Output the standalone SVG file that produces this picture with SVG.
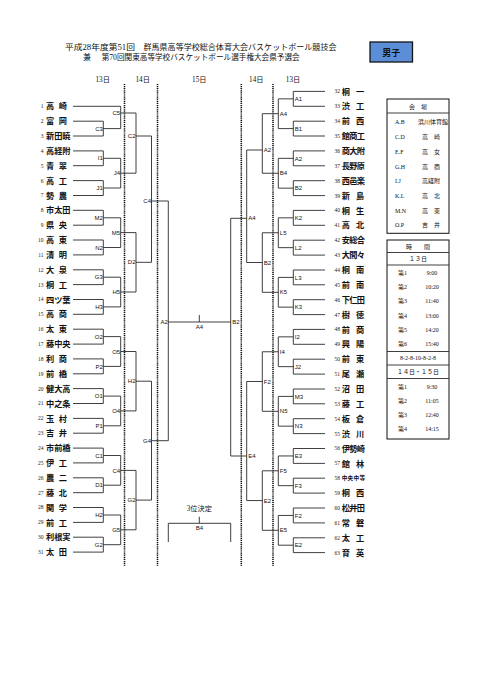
<svg xmlns="http://www.w3.org/2000/svg" width="481" height="680" viewBox="0 0 481 680">
<style>
.ln{stroke:#2a2a2a;stroke-width:0.9;fill:none}
.dot{stroke:#000;stroke-width:1.5;stroke-dasharray:1.1 0.8;fill:none}
.nm{font-family:"Noto Sans CJK JP","Noto Sans CJK SC",sans-serif;font-weight:bold;font-size:8.2px;fill:#111}
.sm{font-family:"Noto Sans CJK JP",sans-serif;font-weight:bold;font-size:5.6px;fill:#111}
.no{font-family:"Liberation Serif",serif;font-size:5.5px;fill:#222}
.lb{font-family:"Liberation Sans",sans-serif;font-size:6px;fill:#111}
.lbl{font-family:"Liberation Sans",sans-serif;font-size:6px;fill:#111;text-anchor:end}
.dt{font-family:"Liberation Serif","Noto Sans CJK JP",serif;font-size:7.2px;fill:#111;text-anchor:middle}
.tt{font-family:"Liberation Serif","Noto Sans CJK JP",serif;font-size:8px;fill:#111}
.tb{font-family:"Liberation Serif","Noto Sans CJK JP",serif;font-size:6px;fill:#111}
.tbc{font-family:"Liberation Serif","Noto Sans CJK JP",serif;font-size:6px;fill:#111;text-anchor:middle}
.box{fill:#fff;stroke:#111;stroke-width:1}
</style>
<rect width="481" height="680" fill="#fff"/>

<g id="title">
<text class="tt" x="65" y="50" textLength="70" lengthAdjust="spacingAndGlyphs">平成28年度第51回</text>
<text class="tt" x="143.5" y="50" textLength="193" lengthAdjust="spacingAndGlyphs">群馬県高等学校総合体育大会バスケットボール競技会</text>
<text class="tt" x="83" y="60">兼</text>
<text class="tt" x="101.7" y="60" textLength="198" lengthAdjust="spacingAndGlyphs">第70回関東高等学校バスケットボール選手権大会県予選会</text>
</g>

<g id="boys">
<rect x="370" y="42" width="42.5" height="20" fill="#5b8ed6" stroke="#151515" stroke-width="1.3"/>
<text x="391.3" y="55.5" text-anchor="middle" font-family="Noto Sans CJK JP,sans-serif" font-weight="bold" font-size="9" fill="#111">男子</text>
</g>

<g id="dates">
<text class="dt" x="102.7" y="81.5">13日</text>
<text class="dt" x="142.7" y="81.5">14日</text>
<text class="dt" x="199.3" y="81.5">15日</text>
<text class="dt" x="256.3" y="81.5">14日</text>
<text class="dt" x="293" y="81.5">13日</text>
</g>

<g id="day-dividers">
<line class="dot" x1="124.5" y1="84" x2="124.5" y2="566"/>
<line class="dot" x1="157.5" y1="84" x2="157.5" y2="566"/>
<line class="dot" x1="241.3" y1="84" x2="241.3" y2="566"/>
<line class="dot" x1="273" y1="84" x2="273" y2="566"/>
</g>

<g id="connectors">
<path class="ln" d="M73,106.3H120.7"/>
<path class="ln" d="M73,121.2H103.3V136H73M103.3,128.6H120.7"/>
<path class="ln" d="M120.7,106.3V128.6M120.7,113H136"/>
<path class="ln" d="M73,150.9H103.3V165.7H73M103.3,158.3H120.7"/>
<path class="ln" d="M73,180.6H103.3V195.5H73M103.3,188H120.7"/>
<path class="ln" d="M120.7,158.3V188M120.7,173.2H136"/>
<path class="ln" d="M136,113V173.2M136,136H151.5"/>
<path class="ln" d="M73,210.3H103.3V225.2H73M103.3,217.8H120.7"/>
<path class="ln" d="M73,240H103.3V254.9H73M103.3,247.5H120.7"/>
<path class="ln" d="M120.7,217.8V247.5M120.7,232.6H136"/>
<path class="ln" d="M73,269.8H103.3V284.6H73M103.3,277.2H120.7"/>
<path class="ln" d="M73,299.5H103.3V314.3H73M103.3,306.9H120.7"/>
<path class="ln" d="M120.7,277.2V306.9M120.7,292H136"/>
<path class="ln" d="M136,232.6V292M136,262.3H151.5"/>
<path class="ln" d="M151.5,136V262.3M151.5,201H168.3"/>
<path class="ln" d="M73,329.2H103.3V344.1H73M103.3,336.6H120.7"/>
<path class="ln" d="M73,358.9H103.3V373.8H73M103.3,366.4H120.7"/>
<path class="ln" d="M120.7,336.6V366.4M120.7,351.5H136"/>
<path class="ln" d="M73,388.6H103.3V403.5H73M103.3,396.1H120.7"/>
<path class="ln" d="M73,418.4H103.3V433.2H73M103.3,425.8H120.7"/>
<path class="ln" d="M120.7,396.1V425.8M120.7,410.9H136"/>
<path class="ln" d="M136,351.5V410.9M136,381.2H151.5"/>
<path class="ln" d="M73,448.1H103.3V462.9H73M103.3,455.5H120.7"/>
<path class="ln" d="M73,477.8H103.3V492.7H73M103.3,485.2H120.7"/>
<path class="ln" d="M120.7,455.5V485.2M120.7,470.4H136"/>
<path class="ln" d="M73,507.5H103.3V522.4H73M103.3,515H120.7"/>
<path class="ln" d="M73,537.2H103.3V552.1H73M103.3,544.7H120.7"/>
<path class="ln" d="M120.7,515V544.7M120.7,529.8H136"/>
<path class="ln" d="M136,470.4V529.8M136,500.1H151.5"/>
<path class="ln" d="M151.5,381.2V500.1M151.5,440.7H168.3"/>
<path class="ln" d="M168.3,201V440.7M168.3,322H230.7"/>
<path class="ln" d="M199.3,315V322"/>

<path class="ln" d="M325,91.4H293.3V106.3H325M293.3,98.85H278.3"/>
<path class="ln" d="M325,121.2H293.3V136H325M293.3,128.6H278.3"/>
<path class="ln" d="M278.3,98.85V128.6M278.3,113.7H262.3"/>
<path class="ln" d="M325,150.9H293.3V165.8H325M293.3,158.35H278.3"/>
<path class="ln" d="M325,180.7H293.3V195.6H325M293.3,188.15H278.3"/>
<path class="ln" d="M278.3,158.35V188.15M278.3,173.25H262.3"/>
<path class="ln" d="M262.3,113.7V173.25M262.3,150H246.7"/>
<path class="ln" d="M325,210.4H293.3V225.3H325M293.3,217.85H278.3"/>
<path class="ln" d="M325,240.2H293.3V255.1H325M293.3,247.65H278.3"/>
<path class="ln" d="M278.3,217.85V247.65M278.3,232.75H262.3"/>
<path class="ln" d="M325,270H293.3V284.8H325M293.3,277.4H278.3"/>
<path class="ln" d="M325,299.7H293.3V314.6H325M293.3,307.15H278.3"/>
<path class="ln" d="M278.3,277.4V307.15M278.3,292.3H262.3"/>
<path class="ln" d="M262.3,232.75V292.3M262.3,262.5H246.7"/>
<path class="ln" d="M246.7,150V262.5M246.7,218.3H230.7"/>
<path class="ln" d="M325,329.4H293.3V344.3H325M293.3,336.85H278.3"/>
<path class="ln" d="M325,359.2H293.3V374.1H325M293.3,366.65H278.3"/>
<path class="ln" d="M278.3,336.85V366.65M278.3,351.75H262.3"/>
<path class="ln" d="M325,389H293.3V403.8H325M293.3,396.4H278.3"/>
<path class="ln" d="M325,418.7H293.3V433.6H325M293.3,426.15H278.3"/>
<path class="ln" d="M278.3,396.4V426.15M278.3,411.3H262.3"/>
<path class="ln" d="M262.3,351.75V411.3M262.3,381.5H246.7"/>
<path class="ln" d="M325,448.5H293.3V463.4H325M293.3,455.95H278.3"/>
<path class="ln" d="M325,478.2H293.3V493.1H325M293.3,485.65H278.3"/>
<path class="ln" d="M278.3,455.95V485.65M278.3,470.8H262.3"/>
<path class="ln" d="M325,508H293.3V522.9H325M293.3,515.45H278.3"/>
<path class="ln" d="M325,537.8H293.3V552.6H325M293.3,545.2H278.3"/>
<path class="ln" d="M278.3,515.45V545.2M278.3,530.3H262.3"/>
<path class="ln" d="M262.3,470.8V530.3M262.3,500.55H246.7"/>
<path class="ln" d="M246.7,381.5V500.55M246.7,456H230.7"/>
<path class="ln" d="M230.7,218.3V456"/>

<path class="ln" d="M168.3,542V523.3H230.7V542M199.3,516.7V523.3"/>
</g>

<g id="match-labels">
<text class="lbl" x="102.8" y="130.7">C3</text>
<text class="lbl" x="102.8" y="160.4">I1</text>
<text class="lbl" x="102.8" y="190.1">J1</text>
<text class="lbl" x="102.8" y="219.9">M2</text>
<text class="lbl" x="102.8" y="249.6">N2</text>
<text class="lbl" x="102.8" y="279.3">G3</text>
<text class="lbl" x="102.8" y="309">H3</text>
<text class="lbl" x="102.8" y="338.7">O2</text>
<text class="lbl" x="102.8" y="368.5">P2</text>
<text class="lbl" x="102.8" y="398.2">O1</text>
<text class="lbl" x="102.8" y="427.9">P1</text>
<text class="lbl" x="102.8" y="457.6">C1</text>
<text class="lbl" x="102.8" y="487.3">D1</text>
<text class="lbl" x="102.8" y="517.1">H2</text>
<text class="lbl" x="102.8" y="546.8">G2</text>
<text class="lbl" x="120.2" y="115.1">C5</text>
<text class="lbl" x="120.2" y="175.3">J4</text>
<text class="lbl" x="120.2" y="234.7">M5</text>
<text class="lbl" x="120.2" y="294.1">H5</text>
<text class="lbl" x="120.2" y="353.6">O5</text>
<text class="lbl" x="120.2" y="413">O4</text>
<text class="lbl" x="120.2" y="472.5">C4</text>
<text class="lbl" x="120.2" y="531.9">G5</text>
<text class="lbl" x="135.5" y="138.1">C2</text>
<text class="lbl" x="135.5" y="264.4">D2</text>
<text class="lbl" x="135.5" y="383.3">H2</text>
<text class="lbl" x="135.5" y="502.2">G2</text>
<text class="lbl" x="151" y="203.1">C4</text>
<text class="lbl" x="151" y="442.8">G4</text>
<text class="lbl" x="167.8" y="324.1">A2</text>

<text class="lb" x="294.8" y="101">A1</text>
<text class="lb" x="294.8" y="130.7">B1</text>
<text class="lb" x="294.8" y="160.5">A2</text>
<text class="lb" x="294.8" y="190.3">B2</text>
<text class="lb" x="294.8" y="220">K2</text>
<text class="lb" x="294.8" y="249.8">L2</text>
<text class="lb" x="294.8" y="279.5">L3</text>
<text class="lb" x="294.8" y="309.3">K3</text>
<text class="lb" x="294.8" y="339">I2</text>
<text class="lb" x="294.8" y="368.8">J2</text>
<text class="lb" x="294.8" y="398.5">M3</text>
<text class="lb" x="294.8" y="428.3">N3</text>
<text class="lb" x="294.8" y="458.1">E3</text>
<text class="lb" x="294.8" y="487.8">F3</text>
<text class="lb" x="294.8" y="517.6">F2</text>
<text class="lb" x="294.8" y="547.3">E2</text>
<text class="lb" x="279.8" y="115.8">A4</text>
<text class="lb" x="279.8" y="175.4">B4</text>
<text class="lb" x="279.8" y="234.9">L5</text>
<text class="lb" x="279.8" y="294.4">K5</text>
<text class="lb" x="279.8" y="353.9">I4</text>
<text class="lb" x="279.8" y="413.4">N5</text>
<text class="lb" x="279.8" y="472.9">F5</text>
<text class="lb" x="279.8" y="532.4">E5</text>
<text class="lb" x="263.8" y="152.1">A2</text>
<text class="lb" x="263.8" y="264.6">B2</text>
<text class="lb" x="263.8" y="383.6">F2</text>
<text class="lb" x="263.8" y="502.7">E2</text>
<text class="lb" x="248.2" y="220.4">A4</text>
<text class="lb" x="248.2" y="458.1">E4</text>
<text class="lb" x="232.2" y="324.1">B2</text>

<text class="lb" x="199.3" y="329" text-anchor="middle">A4</text>
<text class="dt" x="199.3" y="511" font-size="6.5">3位決定</text>
<text class="lb" x="199.3" y="529.9" text-anchor="middle">B4</text>
</g>

<g id="t1"><text class="no" x="43.5" y="108.2" text-anchor="end">1</text><text class="nm" x="46" y="109.4" textLength="21" lengthAdjust="spacing">高崎</text></g>
<g id="t2"><text class="no" x="43.5" y="123.1" text-anchor="end">2</text><text class="nm" x="46" y="124.3" textLength="21" lengthAdjust="spacing">富岡</text></g>
<g id="t3"><text class="no" x="43.5" y="137.9" text-anchor="end">3</text><text class="nm" x="46" y="139.1" textLength="24.5" lengthAdjust="spacing">新田暁</text></g>
<g id="t4"><text class="no" x="43.5" y="152.8" text-anchor="end">4</text><text class="nm" x="46" y="154" textLength="24.5" lengthAdjust="spacing">高経附</text></g>
<g id="t5"><text class="no" x="43.5" y="167.6" text-anchor="end">5</text><text class="nm" x="46" y="168.8" textLength="21" lengthAdjust="spacing">青翠</text></g>
<g id="t6"><text class="no" x="43.5" y="182.5" text-anchor="end">6</text><text class="nm" x="46" y="183.7" textLength="21" lengthAdjust="spacing">高工</text></g>
<g id="t7"><text class="no" x="43.5" y="197.4" text-anchor="end">7</text><text class="nm" x="46" y="198.6" textLength="21" lengthAdjust="spacing">勢農</text></g>
<g id="t8"><text class="no" x="43.5" y="212.2" text-anchor="end">8</text><text class="nm" x="46" y="213.4" textLength="24.5" lengthAdjust="spacing">市太田</text></g>
<g id="t9"><text class="no" x="43.5" y="227.1" text-anchor="end">9</text><text class="nm" x="46" y="228.3" textLength="21" lengthAdjust="spacing">県央</text></g>
<g id="t10"><text class="no" x="43.5" y="241.9" text-anchor="end">10</text><text class="nm" x="46" y="243.1" textLength="21" lengthAdjust="spacing">高東</text></g>
<g id="t11"><text class="no" x="43.5" y="256.8" text-anchor="end">11</text><text class="nm" x="46" y="258" textLength="21" lengthAdjust="spacing">清明</text></g>
<g id="t12"><text class="no" x="43.5" y="271.7" text-anchor="end">12</text><text class="nm" x="46" y="272.9" textLength="21" lengthAdjust="spacing">大泉</text></g>
<g id="t13"><text class="no" x="43.5" y="286.5" text-anchor="end">13</text><text class="nm" x="46" y="287.7" textLength="21" lengthAdjust="spacing">桐工</text></g>
<g id="t14"><text class="no" x="43.5" y="301.4" text-anchor="end">14</text><text class="nm" x="46" y="302.6" textLength="24.5" lengthAdjust="spacing">四ツ葉</text></g>
<g id="t15"><text class="no" x="43.5" y="316.2" text-anchor="end">15</text><text class="nm" x="46" y="317.4" textLength="21" lengthAdjust="spacing">高商</text></g>
<g id="t16"><text class="no" x="43.5" y="331.1" text-anchor="end">16</text><text class="nm" x="46" y="332.3" textLength="21" lengthAdjust="spacing">太東</text></g>
<g id="t17"><text class="no" x="43.5" y="346" text-anchor="end">17</text><text class="nm" x="46" y="347.2" textLength="24.5" lengthAdjust="spacing">藤中央</text></g>
<g id="t18"><text class="no" x="43.5" y="360.8" text-anchor="end">18</text><text class="nm" x="46" y="362" textLength="21" lengthAdjust="spacing">利商</text></g>
<g id="t19"><text class="no" x="43.5" y="375.7" text-anchor="end">19</text><text class="nm" x="46" y="376.9" textLength="21" lengthAdjust="spacing">前橋</text></g>
<g id="t20"><text class="no" x="43.5" y="390.5" text-anchor="end">20</text><text class="nm" x="46" y="391.7" textLength="24.5" lengthAdjust="spacing">健大高</text></g>
<g id="t21"><text class="no" x="43.5" y="405.4" text-anchor="end">21</text><text class="nm" x="46" y="406.6" textLength="24.5" lengthAdjust="spacing">中之条</text></g>
<g id="t22"><text class="no" x="43.5" y="420.3" text-anchor="end">22</text><text class="nm" x="46" y="421.5" textLength="21" lengthAdjust="spacing">玉村</text></g>
<g id="t23"><text class="no" x="43.5" y="435.1" text-anchor="end">23</text><text class="nm" x="46" y="436.3" textLength="21" lengthAdjust="spacing">吉井</text></g>
<g id="t24"><text class="no" x="43.5" y="450" text-anchor="end">24</text><text class="nm" x="46" y="451.2" textLength="24.5" lengthAdjust="spacing">市前橋</text></g>
<g id="t25"><text class="no" x="43.5" y="464.8" text-anchor="end">25</text><text class="nm" x="46" y="466" textLength="21" lengthAdjust="spacing">伊工</text></g>
<g id="t26"><text class="no" x="43.5" y="479.7" text-anchor="end">26</text><text class="nm" x="46" y="480.9" textLength="21" lengthAdjust="spacing">農二</text></g>
<g id="t27"><text class="no" x="43.5" y="494.6" text-anchor="end">27</text><text class="nm" x="46" y="495.8" textLength="21" lengthAdjust="spacing">藤北</text></g>
<g id="t28"><text class="no" x="43.5" y="509.4" text-anchor="end">28</text><text class="nm" x="46" y="510.6" textLength="21" lengthAdjust="spacing">関学</text></g>
<g id="t29"><text class="no" x="43.5" y="524.3" text-anchor="end">29</text><text class="nm" x="46" y="525.5" textLength="21" lengthAdjust="spacing">前工</text></g>
<g id="t30"><text class="no" x="43.5" y="539.1" text-anchor="end">30</text><text class="nm" x="46" y="540.3" textLength="24.5" lengthAdjust="spacing">利根実</text></g>
<g id="t31"><text class="no" x="43.5" y="554" text-anchor="end">31</text><text class="nm" x="46" y="555.2" textLength="21" lengthAdjust="spacing">太田</text></g>

<g id="t32"><text class="no" x="340" y="93.3" text-anchor="end">32</text><text class="nm" x="341.7" y="94.5" textLength="22.6" lengthAdjust="spacing">桐一</text></g>
<g id="t33"><text class="no" x="340" y="108.2" text-anchor="end">33</text><text class="nm" x="341.7" y="109.4" textLength="22.6" lengthAdjust="spacing">渋工</text></g>
<g id="t34"><text class="no" x="340" y="123.1" text-anchor="end">34</text><text class="nm" x="341.7" y="124.3" textLength="22.6" lengthAdjust="spacing">前西</text></g>
<g id="t35"><text class="no" x="340" y="137.9" text-anchor="end">35</text><text class="nm" x="341.7" y="139.1" textLength="23.3" lengthAdjust="spacing">館商工</text></g>
<g id="t36"><text class="no" x="340" y="152.8" text-anchor="end">36</text><text class="nm" x="341.7" y="154" textLength="23.3" lengthAdjust="spacing">商大附</text></g>
<g id="t37"><text class="no" x="340" y="167.7" text-anchor="end">37</text><text class="nm" x="341.7" y="168.9" textLength="23.3" lengthAdjust="spacing">長野原</text></g>
<g id="t38"><text class="no" x="340" y="182.6" text-anchor="end">38</text><text class="nm" x="341.7" y="183.8" textLength="23.3" lengthAdjust="spacing">西邑楽</text></g>
<g id="t39"><text class="no" x="340" y="197.5" text-anchor="end">39</text><text class="nm" x="341.7" y="198.7" textLength="22.6" lengthAdjust="spacing">新島</text></g>
<g id="t40"><text class="no" x="340" y="212.3" text-anchor="end">40</text><text class="nm" x="341.7" y="213.5" textLength="22.6" lengthAdjust="spacing">桐生</text></g>
<g id="t41"><text class="no" x="340" y="227.2" text-anchor="end">41</text><text class="nm" x="341.7" y="228.4" textLength="22.6" lengthAdjust="spacing">高北</text></g>
<g id="t42"><text class="no" x="340" y="242.1" text-anchor="end">42</text><text class="nm" x="341.7" y="243.3" textLength="23.3" lengthAdjust="spacing">安総合</text></g>
<g id="t43"><text class="no" x="340" y="257" text-anchor="end">43</text><text class="nm" x="341.7" y="258.2" textLength="23.3" lengthAdjust="spacing">大間々</text></g>
<g id="t44"><text class="no" x="340" y="271.9" text-anchor="end">44</text><text class="nm" x="341.7" y="273.1" textLength="22.6" lengthAdjust="spacing">桐南</text></g>
<g id="t45"><text class="no" x="340" y="286.7" text-anchor="end">45</text><text class="nm" x="341.7" y="287.9" textLength="22.6" lengthAdjust="spacing">前南</text></g>
<g id="t46"><text class="no" x="340" y="301.6" text-anchor="end">46</text><text class="nm" x="341.7" y="302.8" textLength="23.3" lengthAdjust="spacing">下仁田</text></g>
<g id="t47"><text class="no" x="340" y="316.5" text-anchor="end">47</text><text class="nm" x="341.7" y="317.7" textLength="22.6" lengthAdjust="spacing">樹徳</text></g>
<g id="t48"><text class="no" x="340" y="331.3" text-anchor="end">48</text><text class="nm" x="341.7" y="332.5" textLength="22.6" lengthAdjust="spacing">前商</text></g>
<g id="t49"><text class="no" x="340" y="346.2" text-anchor="end">49</text><text class="nm" x="341.7" y="347.4" textLength="22.6" lengthAdjust="spacing">興陽</text></g>
<g id="t50"><text class="no" x="340" y="361.1" text-anchor="end">50</text><text class="nm" x="341.7" y="362.3" textLength="22.6" lengthAdjust="spacing">前東</text></g>
<g id="t51"><text class="no" x="340" y="376" text-anchor="end">51</text><text class="nm" x="341.7" y="377.2" textLength="22.6" lengthAdjust="spacing">尾瀬</text></g>
<g id="t52"><text class="no" x="340" y="390.9" text-anchor="end">52</text><text class="nm" x="341.7" y="392.1" textLength="22.6" lengthAdjust="spacing">沼田</text></g>
<g id="t53"><text class="no" x="340" y="405.7" text-anchor="end">53</text><text class="nm" x="341.7" y="406.9" textLength="22.6" lengthAdjust="spacing">藤工</text></g>
<g id="t54"><text class="no" x="340" y="420.6" text-anchor="end">54</text><text class="nm" x="341.7" y="421.8" textLength="22.6" lengthAdjust="spacing">板倉</text></g>
<g id="t55"><text class="no" x="340" y="435.5" text-anchor="end">55</text><text class="nm" x="341.7" y="436.7" textLength="22.6" lengthAdjust="spacing">渋川</text></g>
<g id="t56"><text class="no" x="340" y="450.4" text-anchor="end">56</text><text class="nm" x="341.7" y="451.6" textLength="23.3" lengthAdjust="spacing">伊勢崎</text></g>
<g id="t57"><text class="no" x="340" y="465.3" text-anchor="end">57</text><text class="nm" x="341.7" y="466.5" textLength="22.6" lengthAdjust="spacing">館林</text></g>
<g id="t58"><text class="no" x="340" y="480.1" text-anchor="end">58</text><text class="sm" x="341.7" y="480.3" textLength="23.3" lengthAdjust="spacing">中央中等</text></g>
<g id="t59"><text class="no" x="340" y="495" text-anchor="end">59</text><text class="nm" x="341.7" y="496.2" textLength="22.6" lengthAdjust="spacing">桐西</text></g>
<g id="t60"><text class="no" x="340" y="509.9" text-anchor="end">60</text><text class="nm" x="341.7" y="511.1" textLength="23.3" lengthAdjust="spacing">松井田</text></g>
<g id="t61"><text class="no" x="340" y="524.8" text-anchor="end">61</text><text class="nm" x="341.7" y="526" textLength="22.6" lengthAdjust="spacing">常磐</text></g>
<g id="t62"><text class="no" x="340" y="539.7" text-anchor="end">62</text><text class="nm" x="341.7" y="540.9" textLength="22.6" lengthAdjust="spacing">太工</text></g>
<g id="t63"><text class="no" x="340" y="554.5" text-anchor="end">63</text><text class="nm" x="341.7" y="555.7" textLength="22.6" lengthAdjust="spacing">育英</text></g>

<g id="venues">
<rect class="box" x="387" y="99" width="62" height="134.3"/>
<line class="ln" x1="387" y1="113" x2="449" y2="113"/>
<text class="tbc" x="418" y="109" font-size="6.5">会　場</text>
<text class="tb" x="395" y="124.2">A.B</text><text class="tbc" x="433" y="124.2">浜川体育館</text>
<text class="tb" x="395" y="139.2">C.D</text><text class="tbc" x="431" y="139.2">高　崎</text>
<text class="tb" x="395" y="154.1">E.F</text><text class="tbc" x="431" y="154.1">高　女</text>
<text class="tb" x="395" y="168.7">G.H</text><text class="tbc" x="431" y="168.7">高　商</text>
<text class="tb" x="395" y="183.2">I.J</text><text class="tbc" x="431" y="183.2">高経附</text>
<text class="tb" x="395" y="198.1">K.L</text><text class="tbc" x="431" y="198.1">高　北</text>
<text class="tb" x="395" y="212.6">M.N</text><text class="tbc" x="431" y="212.6">高　東</text>
<text class="tb" x="395" y="227.2">O.P</text><text class="tbc" x="431" y="227.2">吉　井</text>
</g>

<g id="times">
<rect class="box" x="387" y="240" width="62" height="199"/>
<line class="ln" x1="387" y1="252.5" x2="449" y2="252.5"/>
<line class="ln" x1="387" y1="265" x2="449" y2="265"/>
<line class="ln" x1="387" y1="351.5" x2="449" y2="351.5"/>
<line class="ln" x1="387" y1="365" x2="449" y2="365"/>
<line class="ln" x1="387" y1="378.5" x2="449" y2="378.5"/>
<text class="tbc" x="418" y="249" font-size="6.5">時　　間</text>
<text class="tbc" x="418" y="261.2">１３日</text>
<text class="tb" x="398" y="274.5">第1</text><text class="tbc" x="432" y="274.5">9:00</text>
<text class="tb" x="398" y="288.9">第2</text><text class="tbc" x="432" y="288.9">10:20</text>
<text class="tb" x="398" y="303.2">第3</text><text class="tbc" x="432" y="303.2">11:40</text>
<text class="tb" x="398" y="317.5">第4</text><text class="tbc" x="432" y="317.5">13:00</text>
<text class="tb" x="398" y="331.8">第5</text><text class="tbc" x="432" y="331.8">14:20</text>
<text class="tb" x="398" y="346.1">第6</text><text class="tbc" x="432" y="346.1">15:40</text>
<text class="tbc" x="418" y="360.3">8-2-8-10-8-2-8</text>
<text class="tbc" x="418" y="373.8">１４日・１５日</text>
<text class="tb" x="398" y="388.5">第1</text><text class="tbc" x="432" y="388.5">9:30</text>
<text class="tb" x="398" y="402.8">第2</text><text class="tbc" x="432" y="402.8">11:05</text>
<text class="tb" x="398" y="417.1">第3</text><text class="tbc" x="432" y="417.1">12:40</text>
<text class="tb" x="398" y="431.4">第4</text><text class="tbc" x="432" y="431.4">14:15</text>
</g>
</svg>
